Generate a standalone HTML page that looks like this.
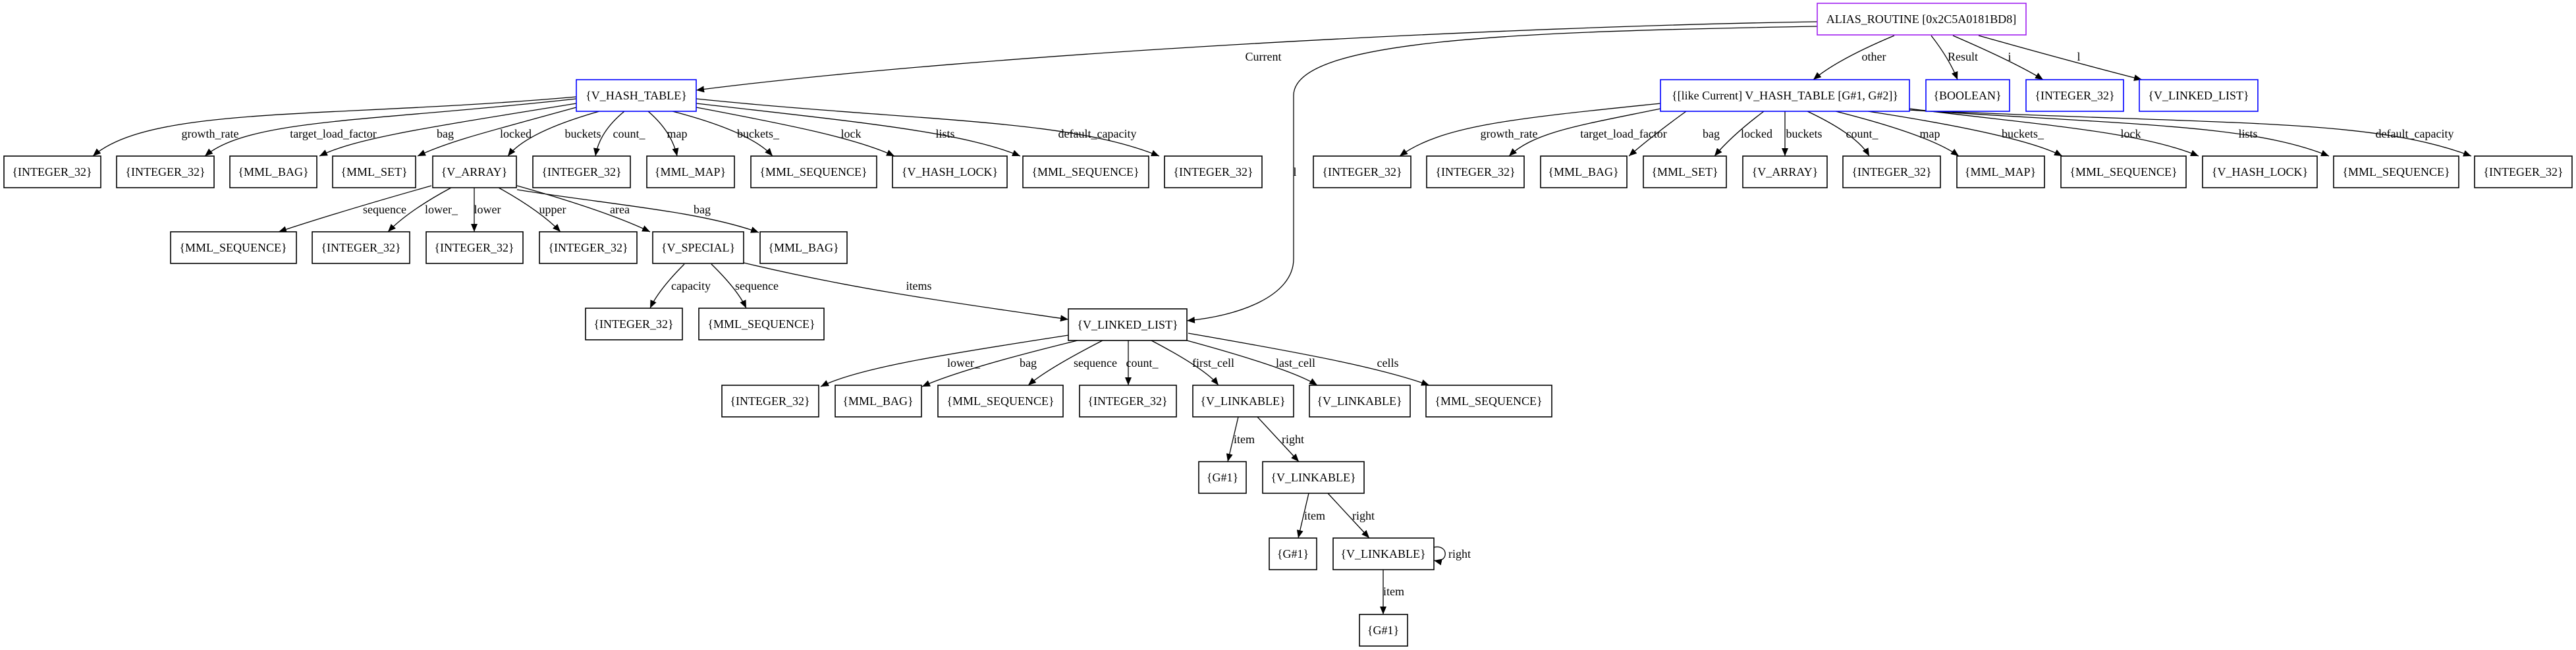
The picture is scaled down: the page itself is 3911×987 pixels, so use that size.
<!DOCTYPE html>
<html><head><meta charset="utf-8"><style>
html,body{margin:0;padding:0;background:#fff;}
svg{display:block;}
text{font-family:"Liberation Serif",serif;font-size:18px;fill:#000;}
.n{fill:#fff;stroke:#000;stroke-width:1.6;}
.b{fill:#fff;stroke:#0000ff;stroke-width:1.6;}
.p{fill:#fff;stroke:#a020f0;stroke-width:1.6;}
.e{fill:none;stroke:#000;stroke-width:1.3;marker-end:url(#a);}
</style></head><body>
<svg width="3911" height="987" viewBox="0 0 3911 987" xmlns="http://www.w3.org/2000/svg">
<defs><marker id="a" markerUnits="userSpaceOnUse" markerWidth="14" markerHeight="10" refX="12" refY="5" orient="auto"><path d="M0,0 L12,5 L0,10 z" fill="#000"/></marker></defs>

<!-- edges from ALIAS_ROUTINE -->
<path class="e" d="M2759 33 C2300 40,1500 80,1057 137"/>
<path class="e" d="M2759 40 C2300 48,1964 60,1964 145 L1964 393 C1964 450,1880 480,1802 487"/>
<path class="e" d="M2876 54 Q2790 90 2753 121"/>
<path class="e" d="M2932 54 Q2960 90 2972 121"/>
<path class="e" d="M2965 54 Q3060 95 3102 121"/>
<path class="e" d="M3004 54 Q3150 95 3252 121"/>

<!-- left hash table -->
<path class="e" d="M875 147 C500 180,230 160,141 237"/>
<path class="e" d="M875 150 C560 185,380 180,311 237"/>
<path class="e" d="M875 157 C640 195,540 210,485 237"/>
<path class="e" d="M875 163 C740 200,680 215,634 237"/>
<path class="e" d="M910 169 Q800 200 771 237"/>
<path class="e" d="M948 169 Q910 200 904 237"/>
<path class="e" d="M984 169 Q1020 200 1028 237"/>
<path class="e" d="M1021 169 Q1140 200 1173 237"/>
<path class="e" d="M1057 163 C1200 190,1300 210,1358 237"/>
<path class="e" d="M1057 157 C1300 185,1460 200,1549 237"/>
<path class="e" d="M1057 150 C1400 185,1620 180,1760 237"/>

<!-- right hash table -->
<path class="e" d="M2521 157 C2300 180,2190 190,2125 237"/>
<path class="e" d="M2521 165 C2400 190,2330 200,2291 237"/>
<path class="e" d="M2560 169 Q2510 205 2473 237"/>
<path class="e" d="M2678 169 Q2630 205 2603 237"/>
<path class="e" d="M2710 169 L2710 237"/>
<path class="e" d="M2744 169 Q2820 205 2838 237"/>
<path class="e" d="M2787 169 Q2930 205 2974 237"/>
<path class="e" d="M2836 169 Q3070 205 3131 237"/>
<path class="e" d="M2899 165 C3100 190,3250 200,3338 237"/>
<path class="e" d="M2899 167 C3250 190,3420 190,3536 237"/>
<path class="e" d="M2899 167 C3400 190,3600 180,3752 237"/>

<!-- V_ARRAY -->
<path class="e" d="M655 282 Q520 320 423 352"/>
<path class="e" d="M685 285 Q620 320 589 352"/>
<path class="e" d="M720 285 L720 352"/>
<path class="e" d="M757 285 Q820 320 851 352"/>
<path class="e" d="M785 282 Q920 320 987 352"/>
<path class="e" d="M785 288 C920 310,1060 320,1152 353"/>

<!-- V_SPECIAL -->
<path class="e" d="M1039 401 Q1000 440 987 468"/>
<path class="e" d="M1080 401 Q1120 440 1133 468"/>
<path class="e" d="M1129 399 C1300 440,1450 460,1622 485"/>

<!-- V_LINKED_LIST -->
<path class="e" d="M1622 509 C1420 540,1300 560,1246 587"/>
<path class="e" d="M1636 517 Q1460 560 1400 587"/>
<path class="e" d="M1674 517 Q1590 560 1561 585"/>
<path class="e" d="M1713 517 L1713 585"/>
<path class="e" d="M1748 517 Q1830 560 1850 585"/>
<path class="e" d="M1802 517 Q1960 560 2000 585"/>
<path class="e" d="M1804 506 C2000 540,2100 560,2170 585"/>

<!-- linkables -->
<path class="e" d="M1880 633 L1864 701"/>
<path class="e" d="M1909 633 L1972 701"/>
<path class="e" d="M1987 749 L1971 817"/>
<path class="e" d="M2016 749 L2079 817"/>
<path class="e" d="M2177 831 C2200 826,2200 856,2177 851"/>
<path class="e" d="M2100 865 L2100 933"/>

<!-- nodes -->
<rect class="p" x="2759" y="5" width="317" height="48"/><text x="2917" y="35" text-anchor="middle">ALIAS_ROUTINE [0x2C5A0181BD8]</text>

<rect class="b" x="875" y="121" width="182" height="48"/><text x="966" y="151" text-anchor="middle">{V_HASH_TABLE}</text>
<rect class="b" x="2521" y="121" width="378" height="48"/><text x="2710" y="151" text-anchor="middle">{[like Current] V_HASH_TABLE [G#1, G#2]}</text>
<rect class="b" x="2924" y="121" width="127" height="48"/><text x="2987" y="151" text-anchor="middle">{BOOLEAN}</text>
<rect class="b" x="3076" y="121" width="148" height="48"/><text x="3150" y="151" text-anchor="middle">{INTEGER_32}</text>
<rect class="b" x="3248" y="121" width="180" height="48"/><text x="3338" y="151" text-anchor="middle">{V_LINKED_LIST}</text>

<g>
<rect class="n" x="6" y="237" width="147" height="48"/><text x="79" y="267" text-anchor="middle">{INTEGER_32}</text>
<rect class="n" x="177" y="237" width="148" height="48"/><text x="251" y="267" text-anchor="middle">{INTEGER_32}</text>
<rect class="n" x="349" y="237" width="132" height="48"/><text x="415" y="267" text-anchor="middle">{MML_BAG}</text>
<rect class="n" x="505" y="237" width="126" height="48"/><text x="568" y="267" text-anchor="middle">{MML_SET}</text>
<rect class="n" x="657" y="237" width="127" height="48"/><text x="720" y="267" text-anchor="middle">{V_ARRAY}</text>
<rect class="n" x="809" y="237" width="148" height="48"/><text x="883" y="267" text-anchor="middle">{INTEGER_32}</text>
<rect class="n" x="982" y="237" width="133" height="48"/><text x="1048" y="267" text-anchor="middle">{MML_MAP}</text>
<rect class="n" x="1140" y="237" width="191" height="48"/><text x="1235" y="267" text-anchor="middle">{MML_SEQUENCE}</text>
<rect class="n" x="1355" y="237" width="174" height="48"/><text x="1442" y="267" text-anchor="middle">{V_HASH_LOCK}</text>
<rect class="n" x="1553" y="237" width="191" height="48"/><text x="1648" y="267" text-anchor="middle">{MML_SEQUENCE}</text>
<rect class="n" x="1768" y="237" width="148" height="48"/><text x="1842" y="267" text-anchor="middle">{INTEGER_32}</text>

<rect class="n" x="1994" y="237" width="148" height="48"/><text x="2068" y="267" text-anchor="middle">{INTEGER_32}</text>
<rect class="n" x="2166" y="237" width="148" height="48"/><text x="2240" y="267" text-anchor="middle">{INTEGER_32}</text>
<rect class="n" x="2339" y="237" width="131" height="48"/><text x="2404" y="267" text-anchor="middle">{MML_BAG}</text>
<rect class="n" x="2495" y="237" width="126" height="48"/><text x="2558" y="267" text-anchor="middle">{MML_SET}</text>
<rect class="n" x="2646" y="237" width="128" height="48"/><text x="2710" y="267" text-anchor="middle">{V_ARRAY}</text>
<rect class="n" x="2798" y="237" width="148" height="48"/><text x="2872" y="267" text-anchor="middle">{INTEGER_32}</text>
<rect class="n" x="2971" y="237" width="133" height="48"/><text x="3037" y="267" text-anchor="middle">{MML_MAP}</text>
<rect class="n" x="3129" y="237" width="190" height="48"/><text x="3224" y="267" text-anchor="middle">{MML_SEQUENCE}</text>
<rect class="n" x="3344" y="237" width="174" height="48"/><text x="3431" y="267" text-anchor="middle">{V_HASH_LOCK}</text>
<rect class="n" x="3543" y="237" width="190" height="48"/><text x="3638" y="267" text-anchor="middle">{MML_SEQUENCE}</text>
<rect class="n" x="3757" y="237" width="148" height="48"/><text x="3831" y="267" text-anchor="middle">{INTEGER_32}</text>

<rect class="n" x="259" y="352" width="191" height="48"/><text x="354" y="382" text-anchor="middle">{MML_SEQUENCE}</text>
<rect class="n" x="474" y="352" width="148" height="48"/><text x="548" y="382" text-anchor="middle">{INTEGER_32}</text>
<rect class="n" x="647" y="352" width="147" height="48"/><text x="720" y="382" text-anchor="middle">{INTEGER_32}</text>
<rect class="n" x="819" y="352" width="148" height="48"/><text x="893" y="382" text-anchor="middle">{INTEGER_32}</text>
<rect class="n" x="991" y="352" width="138" height="48"/><text x="1060" y="382" text-anchor="middle">{V_SPECIAL}</text>
<rect class="n" x="1154" y="352" width="132" height="48"/><text x="1220" y="382" text-anchor="middle">{MML_BAG}</text>

<rect class="n" x="889" y="468" width="147" height="48"/><text x="962" y="498" text-anchor="middle">{INTEGER_32}</text>
<rect class="n" x="1061" y="468" width="190" height="48"/><text x="1156" y="498" text-anchor="middle">{MML_SEQUENCE}</text>
<rect class="n" x="1622" y="469" width="180" height="48"/><text x="1712" y="499" text-anchor="middle">{V_LINKED_LIST}</text>

<rect class="n" x="1096" y="585" width="147" height="48"/><text x="1169" y="615" text-anchor="middle">{INTEGER_32}</text>
<rect class="n" x="1268" y="585" width="131" height="48"/><text x="1333" y="615" text-anchor="middle">{MML_BAG}</text>
<rect class="n" x="1424" y="585" width="190" height="48"/><text x="1519" y="615" text-anchor="middle">{MML_SEQUENCE}</text>
<rect class="n" x="1639" y="585" width="147" height="48"/><text x="1712" y="615" text-anchor="middle">{INTEGER_32}</text>
<rect class="n" x="1811" y="585" width="153" height="48"/><text x="1887" y="615" text-anchor="middle">{V_LINKABLE}</text>
<rect class="n" x="1988" y="585" width="153" height="48"/><text x="2064" y="615" text-anchor="middle">{V_LINKABLE}</text>
<rect class="n" x="2165" y="585" width="191" height="48"/><text x="2260" y="615" text-anchor="middle">{MML_SEQUENCE}</text>

<rect class="n" x="1820" y="701" width="72" height="48"/><text x="1856" y="731" text-anchor="middle">{G#1}</text>
<rect class="n" x="1917" y="701" width="154" height="48"/><text x="1994" y="731" text-anchor="middle">{V_LINKABLE}</text>
<rect class="n" x="1927" y="817" width="72" height="48"/><text x="1963" y="847" text-anchor="middle">{G#1}</text>
<rect class="n" x="2024" y="817" width="153" height="48"/><text x="2100" y="847" text-anchor="middle">{V_LINKABLE}</text>
<rect class="n" x="2064" y="933" width="73" height="48"/><text x="2100" y="963" text-anchor="middle">{G#1}</text>
</g>

<!-- edge labels -->
<g text-anchor="middle">
<text x="1918" y="92">Current</text>
<text x="1966" y="267">l</text>
<text x="2845" y="92">other</text>
<text x="2980" y="92">Result</text>
<text x="3051" y="92">i</text>
<text x="3156" y="92">l</text>

<text x="319" y="209">growth_rate</text>
<text x="506" y="209">target_load_factor</text>
<text x="676" y="209">bag</text>
<text x="783" y="209">locked</text>
<text x="885" y="209">buckets</text>
<text x="955" y="209">count_</text>
<text x="1028" y="209">map</text>
<text x="1151" y="209">buckets_</text>
<text x="1292" y="209">lock</text>
<text x="1435" y="209">lists</text>
<text x="1666" y="209">default_capacity</text>

<text x="2291" y="209">growth_rate</text>
<text x="2465" y="209">target_load_factor</text>
<text x="2598" y="209">bag</text>
<text x="2667" y="209">locked</text>
<text x="2739" y="209">buckets</text>
<text x="2827" y="209">count_</text>
<text x="2930" y="209">map</text>
<text x="3071" y="209">buckets_</text>
<text x="3235" y="209">lock</text>
<text x="3413" y="209">lists</text>
<text x="3666" y="209">default_capacity</text>

<text x="584" y="324">sequence</text>
<text x="670" y="324">lower_</text>
<text x="740" y="324">lower</text>
<text x="839" y="324">upper</text>
<text x="941" y="324">area</text>
<text x="1066" y="324">bag</text>

<text x="1049" y="440">capacity</text>
<text x="1149" y="440">sequence</text>
<text x="1395" y="440">items</text>

<text x="1463" y="557">lower_</text>
<text x="1561" y="557">bag</text>
<text x="1663" y="557">sequence</text>
<text x="1734" y="557">count_</text>
<text x="1842" y="557">first_cell</text>
<text x="1967" y="557">last_cell</text>
<text x="2107" y="557">cells</text>

<text x="1889" y="673">item</text>
<text x="1963" y="673">right</text>
<text x="1996" y="789">item</text>
<text x="2070" y="789">right</text>
<text x="2216" y="847">right</text>
<text x="2116" y="904">item</text>
</g>
</svg>
</body></html>
